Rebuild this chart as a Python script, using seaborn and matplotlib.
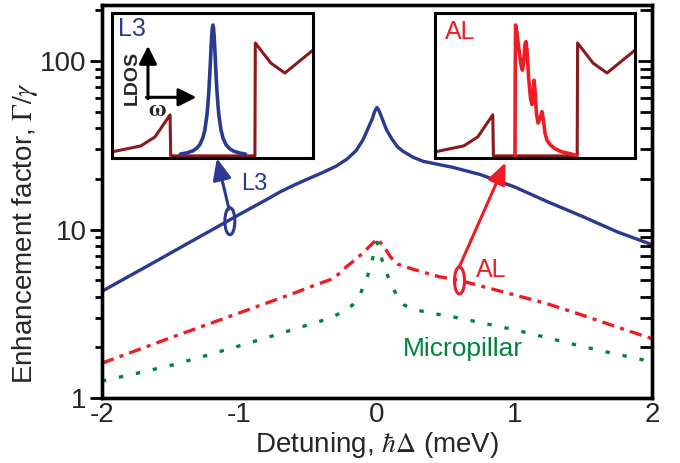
import numpy as np
import pandas as pd
import matplotlib
matplotlib.use('Agg')
import matplotlib.pyplot as plt
import seaborn as sns
from matplotlib.patches import Ellipse
from matplotlib.transforms import ScaledTranslation
from matplotlib.ticker import FixedLocator, NullFormatter, LogLocator

sns.set_theme(style='white')
plt.rcParams['font.family'] = ['Liberation Sans', 'DejaVu Sans']
plt.rcParams['mathtext.fontset'] = 'stix'
plt.rcParams['axes.unicode_minus'] = False

# ---------------- data ----------------
l3_x = [-2.0, -1.8, -1.6, -1.4, -1.2, -1.0, -0.8, -0.7, -0.6, -0.5, -0.4, -0.3, -0.22, -0.15,
        -0.1, -0.06, -0.036, -0.015, 0.0, 0.015, 0.04, 0.07, 0.11, 0.15, 0.19, 0.26, 0.335,
        0.45, 0.55, 0.75, 0.85, 1.0, 1.25, 1.5, 1.75, 2.0]
l3_y = [4.3, 5.3, 6.53, 8.07, 9.95, 12.3, 15.1, 16.8, 18.4, 20.0, 21.7, 23.7, 26.1, 29.5,
        34.3, 40.7, 45.0, 50.7, 53.0, 50.7, 45.0, 38.9, 34.3, 30.9, 29.1, 26.9, 25.4,
        24.3, 23.4, 21.2, 19.8, 17.9, 14.5, 11.9, 9.66, 8.13]

al_x = [-2.0, -1.5, -1.0, -0.6, -0.45, -0.34, -0.28, -0.22, -0.16, -0.1, -0.05, 0.0, 0.05,
        0.1, 0.15, 0.2, 0.3, 0.45, 0.6, 0.8, 1.0, 1.25, 1.5, 1.75, 2.0]
al_y = [1.61, 2.28, 3.2, 4.2, 4.68, 5.04, 5.43, 6.03, 6.6, 7.3, 8.0, 8.8, 7.94,
        6.84, 6.24, 6.03, 5.69, 5.25, 4.99, 4.52, 4.09, 3.6, 3.09, 2.63, 2.25]

mp_x = [-2.0, -1.75, -1.5, -1.25, -1.0, -0.75, -0.5, -0.35, -0.25, -0.18, -0.12, -0.07, -0.04,
        -0.02, 0.0, 0.02, 0.04, 0.07, 0.1, 0.15, 0.2, 0.3, 0.45, 0.6, 0.8, 1.0, 1.2, 1.4,
        1.6, 1.8, 2.0]
mp_y = [1.26, 1.40, 1.56, 1.78, 2.04, 2.35, 2.72, 2.96, 3.24, 3.55, 4.17, 5.25, 6.3,
        7.4, 8.4, 7.4, 6.46, 5.5, 4.79, 3.98, 3.55, 3.31, 3.13, 2.98, 2.75, 2.54, 2.32, 2.11,
        1.93, 1.78, 1.64]

# inset: photonic-crystal LDOS (arbitrary units, normalised)
band_u = [0.0, 0.144, 0.214, 0.289, 0.292, 0.711, 0.713, 0.79, 0.86, 1.0]
band_v = [0.028, 0.07, 0.133, 0.287, 0.0, 0.0, 0.79, 0.65, 0.58, 0.74]

cav_u = [0.34, 0.372, 0.402, 0.422, 0.437, 0.452, 0.462, 0.472, 0.477, 0.482, 0.486, 0.490,
         0.493, 0.496, 0.499, 0.502, 0.505, 0.508, 0.511, 0.514, 0.518, 0.522, 0.527,
         0.532, 0.542, 0.552, 0.567, 0.582, 0.602, 0.632, 0.664]
cav_v = [0.0125, 0.021, 0.035, 0.054, 0.079, 0.126, 0.183, 0.282, 0.357, 0.458, 0.558, 0.673,
         0.762, 0.84, 0.896, 0.916, 0.896, 0.84, 0.762, 0.673, 0.558, 0.458, 0.357,
         0.282, 0.183, 0.126, 0.079, 0.054, 0.035, 0.021, 0.0125]

al_u = [0.40, 0.401, 0.403, 0.41, 0.42, 0.43, 0.437, 0.443, 0.45, 0.455, 0.46, 0.468, 0.478,
        0.485, 0.49, 0.495, 0.5, 0.507, 0.515, 0.525, 0.535, 0.542, 0.55, 0.56, 0.575,
        0.6, 0.63, 0.66, 0.69, 0.71]
al_v = [0.0, 0.5, 0.916, 0.86, 0.74, 0.64, 0.6, 0.65, 0.78, 0.8, 0.74, 0.55, 0.4,
        0.36, 0.42, 0.53, 0.46, 0.3, 0.23, 0.26, 0.31, 0.25, 0.16, 0.11, 0.08,
        0.05, 0.03, 0.02, 0.01, 0.0]

yticks_main = [1, 10, 100]
xticks_main = [-2, -1, 0, 1, 2]

blue = '#2B3990'
red = '#EE1C25'
green = '#00843D'
maroon = '#8B1A1F'

# ---------------- figure ----------------
fig = plt.figure(figsize=(6.8, 4.63), dpi=100)
ax = fig.add_axes([0.15, 0.1404, 0.8088, 0.8488])

LW = 2.4
sns.lineplot(x=l3_x, y=l3_y, ax=ax, color=blue, lw=LW, estimator=None, sort=False)
sns.lineplot(x=al_x, y=al_y, ax=ax, color=red, lw=LW, estimator=None, sort=False,
             linestyle=(0, (3.7, 1.9, 1.2, 1.9)))
sns.lineplot(x=mp_x, y=mp_y, ax=ax, color=green, lw=LW, estimator=None, sort=False,
             linestyle=(0, (1.3, 3.9)))

ax.set_yscale('log')
ax.set_xlim(-2, 2)
ax.set_ylim(1, 215)
ax.set_xticks(xticks_main)
ax.set_xticklabels([str(v) for v in xticks_main])
ax.xaxis.set_minor_locator(FixedLocator([-1.5, -0.5, 0.5, 1.5]))
ax.set_yticks(yticks_main)
ax.set_yticklabels([str(v) for v in yticks_main])
ax.yaxis.set_minor_locator(LogLocator(base=10, subs=np.arange(2, 10)))
ax.yaxis.set_minor_formatter(NullFormatter())

for s in ax.spines.values():
    s.set_linewidth(2.4)
    s.set_color('black')

ax.tick_params(axis='x', which='major', direction='in', length=9, width=2, top=False,
               labelsize=20, pad=3, color='black')
ax.tick_params(axis='x', which='minor', direction='in', length=5, width=2, top=False, color='black')
ax.tick_params(axis='y', which='major', direction='out', length=9, width=2, right=False,
               labelsize=20, pad=2, color='black')
ax.tick_params(axis='y', which='minor', direction='out', length=5, width=2, right=False, color='black')

ax.set_xlabel(r'Detuning, $\hbar\Delta$ (meV)', fontsize=20, labelpad=1)
ax.set_ylabel(r'Enhancement factor, $\Gamma/\gamma$', fontsize=20)
ax.yaxis.set_label_coords(-0.113, 0.42)

twin = ax.twinx()
twin.set_yscale('log')
twin.set_ylim(ax.get_ylim())
twin.yaxis.set_major_locator(FixedLocator(yticks_main))
twin.yaxis.set_minor_locator(LogLocator(base=10, subs=np.arange(2, 10)))
twin.tick_params(axis='y', which='major', direction='in', length=10, width=2, labelright=False, color='black')
twin.tick_params(axis='y', which='minor', direction='in', length=9, width=2, labelright=False, color='black')
for s in twin.spines.values():
    s.set_linewidth(2.4)
    s.set_color('black')

# annotations: ellipses, arrows, labels
def ring(x, y, color):
    e = Ellipse((0, 0), 0.1, 0.27, fill=False, edgecolor=color, lw=2.2,
                transform=fig.dpi_scale_trans + ScaledTranslation(x, y, ax.transData),
                clip_on=False, zorder=5)
    ax.add_patch(e)

ring(-1.07, 11.2, blue)
ring(0.6, 4.98, red)

ax.annotate('', xy=(-1.164, 26.5), xytext=(-1.076, 13.2),
            arrowprops=dict(arrowstyle='-|>,head_length=0.65,head_width=0.28', color=blue,
                            lw=2.2, shrinkA=0, shrinkB=0, mutation_scale=20))
ax.annotate('', xy=(0.935, 25.0), xytext=(0.596, 5.94),
            arrowprops=dict(arrowstyle='-|>,head_length=0.65,head_width=0.28', color=red,
                            lw=2.2, shrinkA=0, shrinkB=0, mutation_scale=20))

ax.text(-0.99, 18.5, 'L3', color=blue, fontsize=17, ha='left', va='center')
ax.text(0.72, 5.78, 'AL', color=red, fontsize=18, ha='left', va='center')
ax.text(0.19, 1.96, 'Micropillar', color=green, fontsize=19, ha='left', va='center')

# ---------------- insets ----------------
def make_inset(rect, yt):
    ia = fig.add_axes(rect)
    ia.set_facecolor('white')
    ia.set_xlim(0, 1)
    ia.set_ylim(-0.015, 1.0)
    ia.set_xticks([0.08, 0.435, 0.79])
    ia.set_yticks(yt)
    ia.tick_params(direction='in', length=3, width=1.2, labelbottom=False, labelleft=False,
                   top=False, right=False, color='black')
    for s in ia.spines.values():
        s.set_linewidth(2.2)
        s.set_color('black')
    sns.lineplot(x=band_u, y=band_v, ax=ia, color=maroon, lw=2.2, estimator=None, sort=False)
    return ia

ia1 = make_inset([0.1647, 0.6587, 0.2956, 0.3132], [0.175, 0.364, 0.545, 0.72, 0.91])
sns.lineplot(x=cav_u, y=cav_v, ax=ia1, color=blue, lw=2.6, estimator=None, sort=False)
ia1.text(0.03, 0.975, 'L3', color=blue, fontsize=18, ha='left', va='top', transform=ia1.transAxes)
ia1.annotate('', xy=(0.179, 0.77), xytext=(0.179, 0.40),
             arrowprops=dict(arrowstyle='-|>,head_length=0.6,head_width=0.3', color='black',
                             lw=2.2, shrinkA=0, shrinkB=0, mutation_scale=18))
ia1.annotate('', xy=(0.42, 0.41), xytext=(0.172, 0.41),
             arrowprops=dict(arrowstyle='-|>,head_length=0.6,head_width=0.3', color='black',
                             lw=2.2, shrinkA=0, shrinkB=0, mutation_scale=18))
ia1.text(0.1, 0.545, 'LDOS', rotation=90, fontsize=14, fontweight='bold', ha='center', va='center')
ia1.text(0.225, 0.32, r'$\mathbf{\omega}$', fontsize=17, ha='center', va='center', rotation=0)

ia2 = make_inset([0.6397, 0.6587, 0.2941, 0.3132], [0.224, 0.455, 0.685, 0.909])
sns.lineplot(x=al_u, y=al_v, ax=ia2, color=red, lw=2.6, estimator=None, sort=False)
ia2.text(0.05, 0.955, 'AL', color=red, fontsize=18, ha='left', va='top', transform=ia2.transAxes)

for a in (ia1, ia2):
    a.set_xlabel('')
    a.set_ylabel('')

fig.savefig('out.png', dpi=100)
